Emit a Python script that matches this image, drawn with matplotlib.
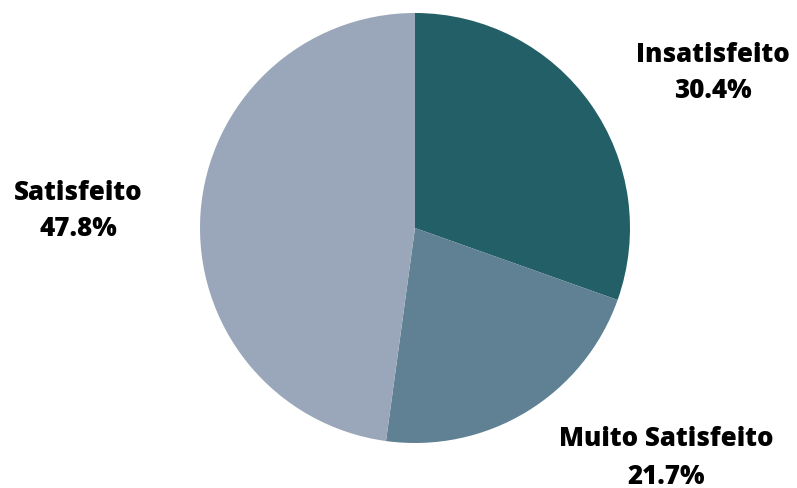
import matplotlib.pyplot as plt

# Data
labels = ["Insatisfeito", "Muito Satisfeito", "Satisfeito"]
values = [30.4, 21.7, 47.8]
colors = ["#235f66", "#5f8193", "#9aa7ba"]

plt.rcParams['font.family'] = ['Open Sans', 'DejaVu Sans']

fig = plt.figure(figsize=(7.97, 4.88), dpi=100)
ax = fig.add_axes([200 / 797, 45 / 488, 430 / 797, 430 / 488])
ax.pie(values, colors=colors, startangle=90, counterclock=False, radius=1.0,
       wedgeprops=dict(linewidth=0))
ax.set_xlim(-1, 1)
ax.set_ylim(-1, 1)
ax.set_aspect('equal')
ax.axis('off')

# Label positions (figure pixels, from top-left)
label_pos = [(713, 73), (666, 458), (78, 211)]
for lab, val, (px, py) in zip(labels, values, label_pos):
    fig.text(px / 797, 1 - py / 488, f"{lab}\n{val:.1f}%", ha='center', va='center',
             fontsize=18.6, fontweight='heavy', color='black', linespacing=1.55)

fig.savefig("out.png", dpi=100)
